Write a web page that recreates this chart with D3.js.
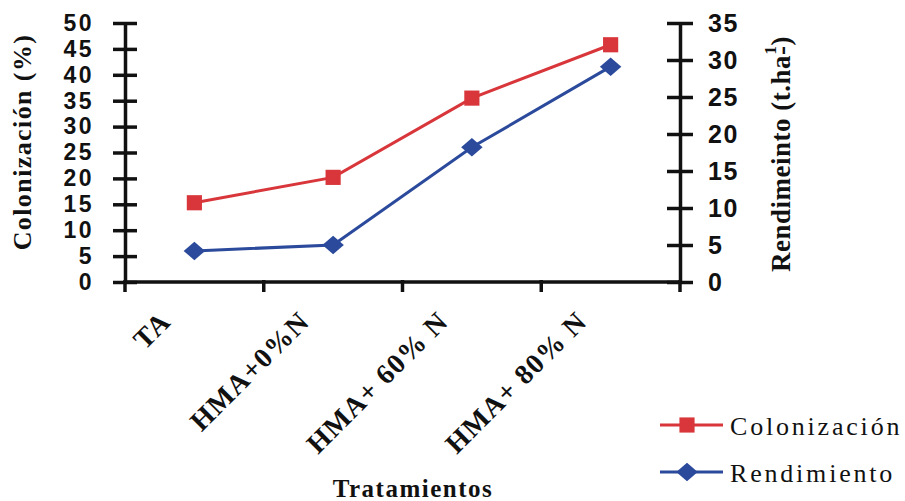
<!DOCTYPE html>
<html><head><meta charset="utf-8">
<script src="https://cdn.jsdelivr.net/npm/d3@7"></script>
<style>body{margin:0;background:#fff}</style></head>
<body>
<svg id="c" width="905" height="501"></svg>
<script>
const categories = ["TA", "HMA+0%N", "HMA+ 60% N", "HMA+ 80% N"];
const colonizacion = [15.3, 20.2, 35.5, 45.8];
const rendimiento = [4.2, 5.0, 18.2, 29.1];
const leftTicks = [0, 5, 10, 15, 20, 25, 30, 35, 40, 45, 50];
const rightTicks = [0, 5, 10, 15, 20, 25, 30, 35];
const seriesNames = ["Colonización", "Rendimiento"];
const leftTitle = "Colonización (%)";
const xTitle = "Tratamientos";

const RED = "#d8363a", BLUE = "#2b4a9c";
const svg = d3.select("#c");
const L = 125, R = 680, T = 23, B = 282;

const x = d3.scaleBand().domain(categories).range([L, R]).paddingInner(0).paddingOuter(0);
const yL = d3.scaleLinear().domain([0, 50]).range([B, T]);
const yR = d3.scaleLinear().domain([0, 35]).range([B, T]);
const cx = c => x(c) + x.bandwidth() / 2;

// left axis
const gl = svg.append("g").attr("transform", `translate(${L},0)`)
  .call(d3.axisLeft(yL).tickValues(leftTicks).tickSizeInner(12).tickSizeOuter(0).tickPadding(19));
gl.select(".domain").attr("stroke", "#111").attr("stroke-width", 3.5);
gl.selectAll(".tick line").attr("x1", -12).attr("x2", 12).attr("stroke", "#111").attr("stroke-width", 3.5);
gl.selectAll(".tick text").attr("font-family", "Liberation Sans, Arial, sans-serif")
  .attr("font-weight", "bold").attr("font-size", 23).attr("letter-spacing", 2.5).attr("fill", "#111");

// right axis
const gr = svg.append("g").attr("transform", `translate(${R},0)`)
  .call(d3.axisRight(yR).tickValues(rightTicks).tickSizeInner(13).tickSizeOuter(0).tickPadding(15));
gr.select(".domain").attr("stroke", "#111").attr("stroke-width", 3.5);
gr.selectAll(".tick line").attr("x1", -13).attr("x2", 13).attr("stroke", "#111").attr("stroke-width", 3.5);
gr.selectAll(".tick text").attr("font-family", "Liberation Sans, Arial, sans-serif")
  .attr("font-weight", "bold").attr("font-size", 25).attr("letter-spacing", 1.5).attr("fill", "#111");

// x axis
const bounds = categories.map(c => x(c)).concat([R]);
svg.append("line").attr("x1", L).attr("x2", R).attr("y1", B).attr("y2", B)
  .attr("stroke", "#111").attr("stroke-width", 3.5);
svg.selectAll(".xt").data(bounds).enter().append("line")
  .attr("x1", d => d).attr("x2", d => d).attr("y1", B - 2).attr("y2", B + 10)
  .attr("stroke", "#111").attr("stroke-width", 3.5);

// x labels
svg.selectAll(".xl").data(categories).enter().append("text")
  .attr("transform", d => `translate(${cx(d) - 22},323) rotate(-45)`)
  .attr("text-anchor", "end")
  .attr("font-family", "Liberation Serif, Times New Roman, serif").attr("font-weight", "bold")
  .attr("font-size", 28).attr("letter-spacing", 1.2).attr("fill", "#111")
  .text(d => d);

// titles
svg.append("text").attr("transform", "translate(31,142) rotate(-90)").attr("text-anchor", "middle")
  .attr("font-family", "Liberation Serif, Times New Roman, serif").attr("font-weight", "bold")
  .attr("font-size", 26).attr("letter-spacing", 1.4).attr("fill", "#111").text(leftTitle);

const rt = svg.append("text").attr("transform", "translate(790,154) rotate(-90)").attr("text-anchor", "middle")
  .attr("font-family", "Liberation Serif, Times New Roman, serif").attr("font-weight", "bold")
  .attr("font-size", 27).attr("letter-spacing", 0.5).attr("fill", "#111");
rt.append("tspan").text("Rendimeinto (t.ha");
rt.append("tspan").text("-");
rt.append("tspan").attr("dx", -9).attr("dy", -14).attr("font-size", 17).text("1");
rt.append("tspan").attr("dy", 14).text(")");

svg.append("text").attr("x", 413).attr("y", 497).attr("text-anchor", "middle")
  .attr("font-family", "Liberation Serif, Times New Roman, serif").attr("font-weight", "bold")
  .attr("font-size", 25).attr("letter-spacing", 1.5).attr("fill", "#111").text(xTitle);

// series
const lineL = d3.line().x((d, i) => cx(categories[i])).y(d => yL(d));
const lineR = d3.line().x((d, i) => cx(categories[i])).y(d => yR(d));
svg.append("path").datum(colonizacion).attr("d", lineL).attr("fill", "none").attr("stroke", RED).attr("stroke-width", 3);
svg.append("path").datum(rendimiento).attr("d", lineR).attr("fill", "none").attr("stroke", BLUE).attr("stroke-width", 3);

const sq = d3.symbol().type(d3.symbolSquare).size(230);
const dm = d3.symbol().type(d3.symbolSquare).size(190);
svg.selectAll(".ms").data(colonizacion).enter().append("path")
  .attr("d", sq).attr("fill", RED)
  .attr("transform", (d, i) => `translate(${cx(categories[i])},${yL(d)})`);
svg.selectAll(".md").data(rendimiento).enter().append("path")
  .attr("d", dm).attr("fill", BLUE)
  .attr("transform", (d, i) => `translate(${cx(categories[i])},${yR(d)}) scale(1.1,0.95) rotate(45)`);

// legend
const leg = [{name: seriesNames[0], color: RED, sym: sq, y: 425, rot: ""},
             {name: seriesNames[1], color: BLUE, sym: dm, y: 472, rot: " scale(1.1,0.95) rotate(45)"}];
leg.forEach(l => {
  svg.append("line").attr("x1", 660).attr("x2", 723).attr("y1", l.y).attr("y2", l.y)
    .attr("stroke", l.color).attr("stroke-width", 3);
  svg.append("path").attr("d", l.sym).attr("fill", l.color)
    .attr("transform", `translate(687,${l.y})${l.rot}`);
  svg.append("text").attr("x", 730).attr("y", l.y + 10)
    .attr("font-family", "Liberation Serif, Times New Roman, serif")
    .attr("font-size", 26).attr("letter-spacing", 2.8).attr("fill", "#111").text(l.name);
});
</script>
</body></html>
